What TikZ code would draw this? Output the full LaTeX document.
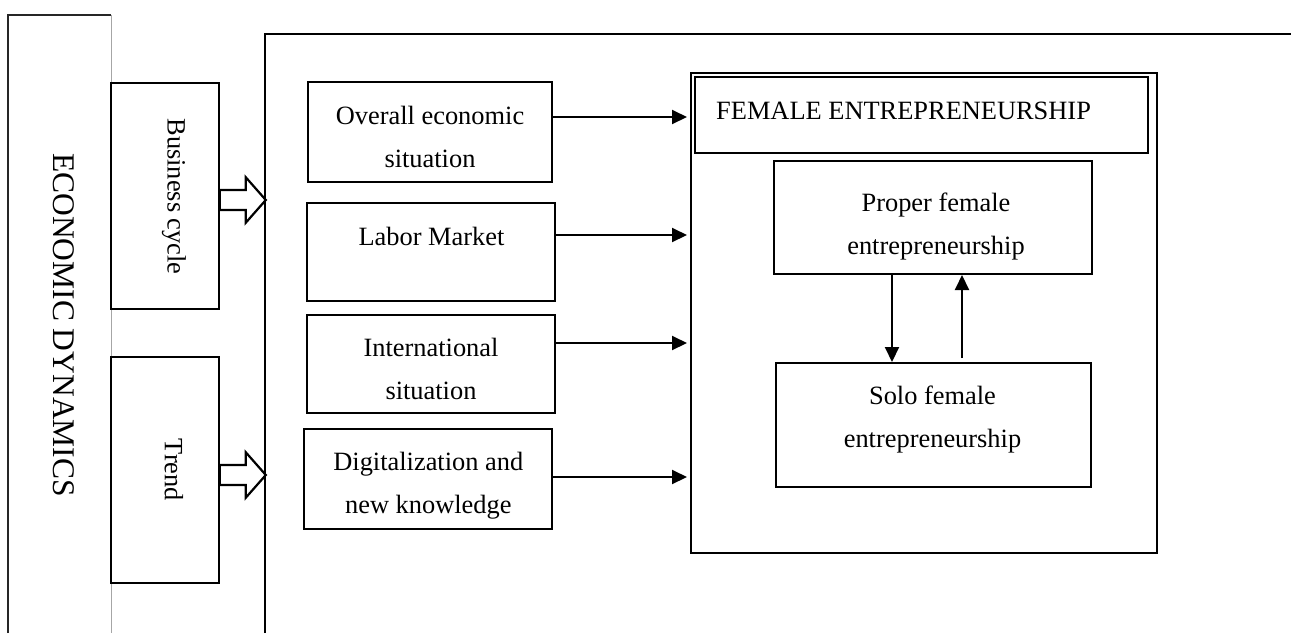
\documentclass[tikz,border=0pt]{standalone}
\usepackage{fontspec}
\setmainfont{Liberation Serif}
\usetikzlibrary{arrows.meta,calc}
\begin{document}
\begin{tikzpicture}[x=1pt,y=-1pt,
  box/.style={draw, line width=2pt, inner sep=0pt},
  ghost/.style={draw=none, inner sep=0pt},
  txt/.style={font=\fontsize{26.4}{43}\selectfont, align=center, inner sep=0pt},
  bigtxt/.style={font=\fontsize{31.5}{38}\selectfont, inner sep=0pt},
  arr/.style={line width=2pt, -{Triangle[length=15pt,width=14pt]}},
  blk/.style={draw, line width=2.2pt, fill=white, line join=miter},
  frame/.style={line width=2.8pt}
]
\useasboundingbox (0,0) rectangle (1291,633);

% tall left box (open at bottom)
\node[ghost, minimum width=103pt, minimum height=618pt] (ed) at (59.5,324) {};
\draw[line width=1.4pt, black!85] (ed.south west) -- (ed.north west) -- (ed.north east);
\draw[line width=1.1pt, gray!70] (ed.north east) -- (ed.south east);
\node[bigtxt, rotate=-90] (edt) at (64,325) {ECONOMIC DYNAMICS};

% business cycle and trend boxes
\node[box, line width=1.6pt, fill=white, minimum width=108pt, minimum height=226pt] (bc) at (165,196) {};
\node[txt, rotate=-90] (bct) at (174,196.5) {Business cycle};
\node[box, line width=1.6pt, fill=white, minimum width=108pt, minimum height=226pt] (tr) at (165,470) {};
\node[txt, rotate=-90] (trt) at (174,470) {Trend};

% block arrows
\coordinate (bcA) at ($(bc.east)+(0,4)$);
\draw[blk] (bcA) ++(0,-10) -- ++(26,0) -- ++(0,-12.7) -- ++(20,22.7) -- ++(-20,22.7) -- ++(0,-12.7) -- ++(-26,0) -- cycle;
\coordinate (trA) at ($(tr.east)+(0,5)$);
\draw[blk] (trA) ++(0,-10) -- ++(26,0) -- ++(0,-12.7) -- ++(20,22.7) -- ++(-20,22.7) -- ++(0,-12.7) -- ++(-26,0) -- cycle;

% big frame
\coordinate (frBL) at (265,633);
\coordinate (frTL) at (265,34);
\coordinate (frTR) at (1291,34);
\draw[frame] (frBL) -- (frTL) -- (frTR);

% factor boxes
\node[box, minimum width=244pt, minimum height=100pt] (oes) at (430,132) {};
\node[txt] (oest) at (430,136.5) {Overall economic\\situation};
\node[box, minimum width=248pt, minimum height=98pt] (lm) at (431,252) {};
\node[txt, anchor=base] (lmt) at (431.5,245) {Labor Market};
\node[box, minimum width=248pt, minimum height=98pt] (is) at (431,364) {};
\node[txt] (ist) at (431,369) {International\\situation};
\node[box, minimum width=248pt, minimum height=100pt] (dk) at (428,479) {};
\node[txt] (dkt) at (428.3,485.8) {Digitalization and\\new knowledge};

% female entrepreneurship
\node[box, minimum width=466pt, minimum height=480pt] (fe) at (924,313) {};
\node[box, minimum width=453pt, minimum height=76pt] (feh) at (921.5,115) {};
\node[txt, anchor=base west] (feht) at (716,119.3) {FEMALE ENTREPRENEURSHIP};
\node[box, minimum width=318pt, minimum height=113pt] (pfe) at (933,217.5) {};
\node[txt] (pfet) at (936,226.6) {Proper female\\entrepreneurship};
\node[box, minimum width=315pt, minimum height=124pt] (sfe) at (933.5,425) {};
\node[txt] (sfet) at (932.5,419.6) {Solo female\\entrepreneurship};

% arrows to female entrepreneurship
\draw[arr] ([yshift=15pt]oes.east) -- ([yshift=15pt,xshift=-3pt]oes.east -| fe.west);
\draw[arr] ([yshift=17pt]lm.east) -- ([yshift=17pt,xshift=-3pt]lm.east -| fe.west);
\draw[arr] ([yshift=21pt]is.east) -- ([yshift=21pt,xshift=-3pt]is.east -| fe.west);
\draw[arr] ([yshift=2pt]dk.east) -- ([yshift=2pt,xshift=-3pt]dk.east -| fe.west);

% arrows between proper and solo
\draw[arr] ([xshift=-41pt]pfe.south) -- ([xshift=-41pt]pfe.south |- sfe.north);
\draw[arr] ([xshift=29pt,yshift=4pt]pfe.south |- sfe.north) -- ([xshift=29pt]pfe.south);
\end{tikzpicture}
\end{document}
